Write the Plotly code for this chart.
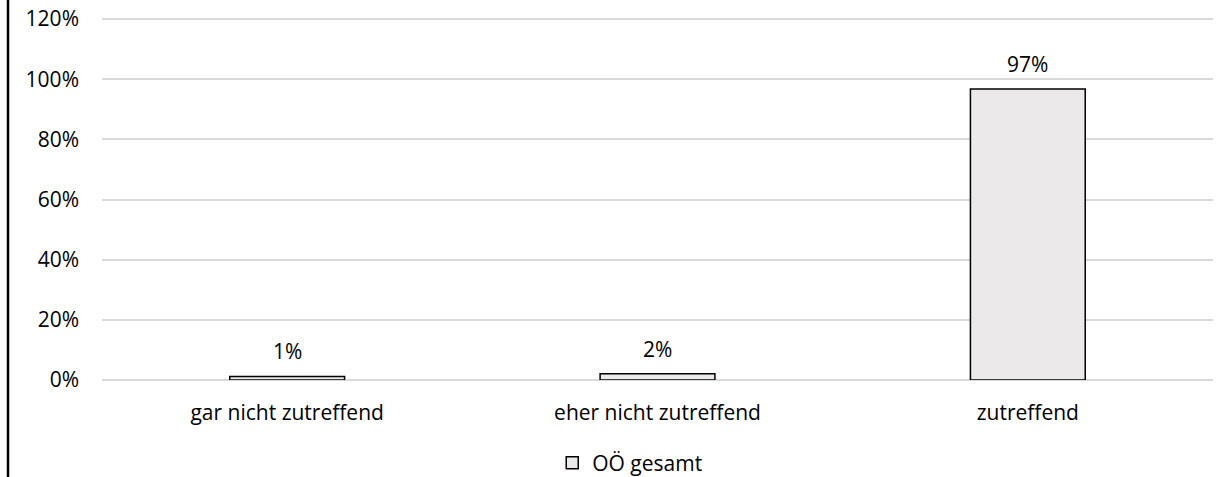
import plotly.graph_objects as go

categories = ["gar nicht zutreffend", "eher nicht zutreffend", "zutreffend"]
values = [1.2, 2.1, 96.7]
labels = ["1%", "2%", "97%"]
tick_vals = [0, 20, 40, 60, 80, 100, 120]
tick_text = ["0%", "20%", "40%", "60%", "80%", "100%", "120%"]
series_name = "OÖ gesamt"

font_family = "Open Sans, sans-serif"
fs = 21

fig = go.Figure()
fig.add_trace(go.Bar(
    x=categories, y=values, name=series_name,
    marker=dict(color="#ebe9e9", line=dict(color="#000000", width=1.5)),
    width=0.31, showlegend=True,
))

for c, v, t in zip(categories, values, labels):
    fig.add_annotation(x=c, y=v, text=t, showarrow=False, yanchor="bottom",
                       yshift=9, font=dict(size=fs, color="#000000"))

fig.update_layout(
    width=1230, height=477,
    margin=dict(l=102, r=17, t=16, b=97, autoexpand=False),
    paper_bgcolor="white", plot_bgcolor="white",
    font=dict(family=font_family, size=fs, color="#000000"),
    bargap=0.69,
    showlegend=True,
    legend=dict(orientation="h", x=0.475, xanchor="center", y=-0.228, yanchor="middle",
                font=dict(size=fs), itemwidth=30),
    xaxis=dict(showgrid=False, showline=False, ticks="", ticklabelstandoff=18,
               tickfont=dict(size=fs)),
    yaxis=dict(range=[0, 121], tickvals=tick_vals, ticktext=tick_text,
               showgrid=True, gridcolor="#d9d9d9", gridwidth=1.5,
               zeroline=True, zerolinecolor="#d9d9d9", zerolinewidth=1.5,
               showline=False, ticklabelstandoff=22, tickfont=dict(size=fs),
               ticklabeloverflow="allow"),
)

fig.add_shape(type="line", xref="paper", yref="paper",
              x0=-0.0846, x1=-0.0846, y0=-0.27, y1=1.06,
              line=dict(color="#000000", width=2.5))

fig.write_html("out.html", config={"displayModeBar": False},
               post_script="document.body.style.margin='0';document.body.style.overflow='hidden';")
